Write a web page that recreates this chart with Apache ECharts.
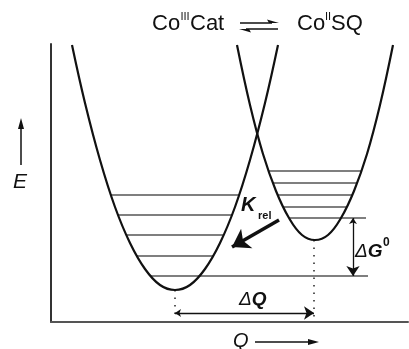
<!DOCTYPE html>
<html>
<head>
<meta charset="utf-8">
<script src="https://cdn.jsdelivr.net/npm/echarts@6/dist/echarts.min.js"></script>
<style>html,body{margin:0;padding:0;background:#fff}#c{width:409px;height:349px}</style>
</head>
<body>
<div id="c"></div>
<script>
// Coordinates in arbitrary diagram units (Q horizontal, E vertical)
const leftWellQ = [21, 34, 49, 64, 79, 94, 109, 124, 139, 154, 169, 184, 199, 214, 227];
const leftWellE = [277, 219, 162, 115, 79, 53, 37, 32, 37, 53, 79, 115, 162, 219, 277];
const rightWellQ = [186, 199, 212, 225, 238, 251, 264, 277, 290, 303, 316, 329, 342];
const rightWellE = [277, 217, 168, 131, 104, 87, 82, 87, 104, 131, 168, 217, 277];

const leftLevelE = [127, 107, 87, 66, 46];
const leftLevelFrom = [60, 67, 75, 86, 99];
const leftLevelTo = [188, 181, 173, 162, 317];
const rightLevelE = [151, 139, 127, 115, 104];
const rightLevelFrom = [218, 222, 226, 232, 238];
const rightLevelTo = [310, 306, 301, 296, 315];

const minLeft = [124, 32];
const minRight = [263, 82];
const dottedBottom = [6, 4];
const deltaQE = 9;
const deltaGQ = 302;
const kArrowFrom = [228, 102];
const kArrowTo = [181, 75];

const F = '"Liberation Sans", Arial, sans-serif';

function pairs(a, b) { return a.map((v, i) => [v, b[i]]); }
function levels(e, f, t) { return e.map((v, i) => ({ coords: [[f[i], v], [t[i], v]] })); }

const chart = echarts.init(document.getElementById('c'), null, { renderer: 'canvas' });
const txt = (x, y, text, font, extra) => Object.assign({
  type: 'text', x: x, y: y, z: 100,
  style: Object.assign({ text: text, font: font, fill: '#111', verticalAlign: 'middle', align: 'left' }, extra || {})
});
const poly = (pts) => ({ type: 'polygon', z: 100, shape: { points: pts }, style: { fill: '#111' } });
const seg = (x1, y1, x2, y2, w) => ({ type: 'line', z: 100, shape: { x1, y1, x2, y2 }, style: { stroke: '#111', lineWidth: w || 1.5 } });

chart.setOption({
  animation: false,
  backgroundColor: '#fff',
  grid: { left: 51, right: 1, top: 44, bottom: 27 },
  xAxis: {
    type: 'value', min: 0, max: 357,
    axisLine: { show: true, onZero: false, lineStyle: { color: '#555', width: 2 } },
    axisTick: { show: false }, axisLabel: { show: false }, splitLine: { show: false }
  },
  yAxis: {
    type: 'value', min: 0, max: 278,
    axisLine: { show: true, onZero: false, lineStyle: { color: '#333', width: 2 } },
    axisTick: { show: false }, axisLabel: { show: false }, splitLine: { show: false }
  },
  series: [
    {
      type: 'line', data: pairs(leftWellQ, leftWellE), smooth: 0.4, showSymbol: false,
      lineStyle: { color: '#111', width: 2.2 }, z: 5
    },
    {
      type: 'line', data: pairs(rightWellQ, rightWellE), smooth: 0.4, showSymbol: false,
      lineStyle: { color: '#111', width: 2.2 }, z: 5
    },
    {
      type: 'lines', coordinateSystem: 'cartesian2d', z: 3,
      data: levels(leftLevelE, leftLevelFrom, leftLevelTo).concat(levels(rightLevelE, rightLevelFrom, rightLevelTo)),
      lineStyle: { color: '#555', width: 1.5, opacity: 1 }, symbol: 'none'
    },
    {
      type: 'lines', coordinateSystem: 'cartesian2d', z: 3,
      data: [
        { coords: [[minLeft[0], minLeft[1]], [minLeft[0], dottedBottom[0]]] },
        { coords: [[minRight[0], minRight[1]], [minRight[0], dottedBottom[1]]] }
      ],
      lineStyle: { color: '#222', width: 1.5, type: [1.5, 6], opacity: 1 }, symbol: 'none'
    },
    {
      type: 'lines', coordinateSystem: 'cartesian2d', z: 4,
      data: [
        { coords: [[minLeft[0], deltaQE], [minRight[0], deltaQE]] },
        { coords: [[deltaGQ, rightLevelE[4]], [deltaGQ, leftLevelE[4]]] }
      ],
      lineStyle: { color: '#111', width: 1.3, opacity: 1 }, symbol: ['arrow', 'arrow'], symbolSize: [6, 10]
    },
    {
      type: 'lines', coordinateSystem: 'cartesian2d', z: 6,
      data: [{ coords: [kArrowFrom, kArrowTo] }],
      lineStyle: { color: '#111', width: 3.5, opacity: 1 }, symbol: ['none', 'arrow'], symbolSize: [13, 17]
    }
  ],
  graphic: [
    txt(152, 24, 'Co', '22px ' + F),
    txt(180.5, 17, 'III', '11px ' + F),
    txt(190, 24, 'Cat', '22px ' + F),
    txt(297, 24, 'Co', '22px ' + F),
    txt(325, 17, 'II', '11px ' + F),
    txt(331, 24, 'SQ', '22px ' + F),
    seg(240, 23, 272, 23, 1.5),
    poly([[279, 23], [267, 19.5], [269, 23]]),
    seg(246, 29, 278, 29, 1.5),
    poly([[239, 29], [251, 32.5], [249, 29]]),
    txt(13, 182, 'E', 'italic 21px ' + F),
    seg(21, 165, 21, 126, 1.5),
    poly([[21, 118], [18, 129], [24, 129]]),
    txt(233, 341, 'Q', 'italic 20px ' + F),
    seg(255, 342, 311, 342, 1.5),
    poly([[319, 342], [308, 339], [308, 345]]),
    txt(241, 205, 'K', 'italic bold 20px ' + F),
    txt(258, 216, 'rel', 'bold 11px ' + F),
    {
      type: 'text', x: 239, y: 300, z: 100,
      style: {
        text: '{d|Δ}{b|Q}', verticalAlign: 'middle', align: 'left',
        rich: {
          d: { font: 'italic 19px ' + F, fill: '#111' },
          b: { font: 'italic bold 19px ' + F, fill: '#111' }
        }
      }
    },
    {
      type: 'text', x: 355, y: 252, z: 100,
      style: {
        text: '{d|Δ}{b|G}', verticalAlign: 'middle', align: 'left',
        rich: {
          d: { font: 'italic 19px ' + F, fill: '#111' },
          b: { font: 'italic bold 19px ' + F, fill: '#111' }
        }
      }
    },
    txt(383, 243, '0', 'bold 12px ' + F)
  ]
});
</script>
</body>
</html>
